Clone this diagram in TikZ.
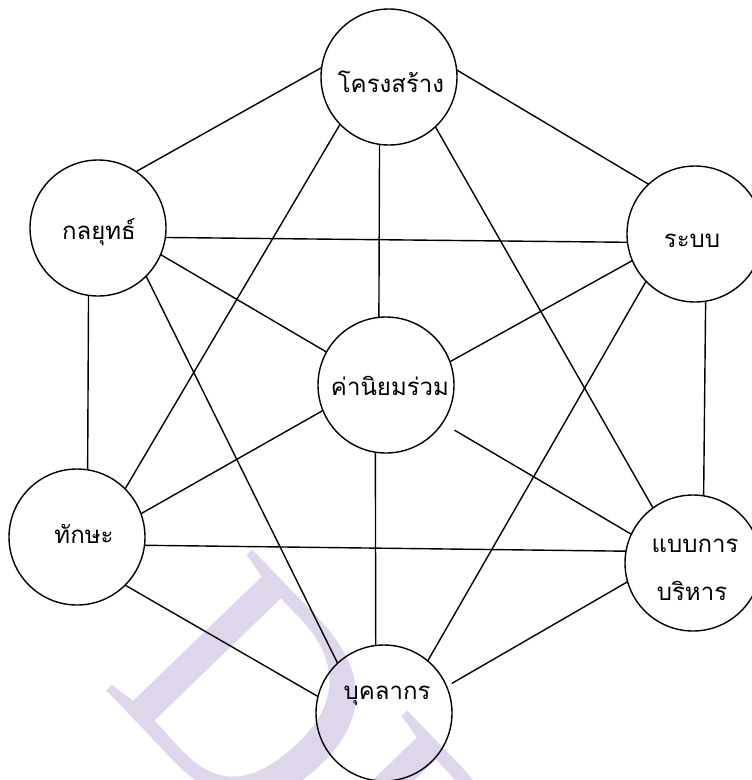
\documentclass[tikz,border=0pt]{standalone}
\usepackage{fontspec}
\newfontfamily\thaifont[Script=Thai]{Loma}
\newfontfamily\markfont{Liberation Serif}
\definecolor{wmark}{RGB}{222,215,235}
\begin{document}
\begin{tikzpicture}[x=1pt,y=-1pt,
  factor/.style={circle,draw,line width=1.4pt,minimum size=136pt,inner sep=0pt,outer sep=0pt},
  caption/.style={font=\thaifont\fontsize{24}{24}\selectfont,anchor=base,inner sep=0pt},
  link/.style={line width=1.4pt}]
\useasboundingbox (0,0) rectangle (752,780);
% background watermark
\begin{scope}
  \clip (0,0) rectangle (752,780);
  \node[anchor=base west,rotate=-46,text=wmark,inner sep=0pt,
        font=\markfont\fontsize{310}{310}\selectfont] (wm) at (100,684) {DPU};
\end{scope}
% the seven factors
\node[factor] (s)  at (389,77)  {};
\node[factor] (st) at (98,228)  {};
\node[factor] (sy) at (695,234) {};
\node[factor] (sv) at (386,385) {};
\node[factor] (sk) at (77,537)  {};
\node[factor] (se) at (693,563) {};
\node[factor] (sf) at (384,713) {};
% captions
\node[caption] (ts)  at (391,92)  {โครงสร้าง};
\node[caption] (tst) at (99,239)  {กลยุทธ์};
\node[caption] (tsy) at (692,247) {ระบบ};
\node[caption] (tsv) at (390,395) {ค่านิยมร่วม};
\node[caption] (tsk) at (84,543)  {ทักษะ};
\node[caption] (tse1) at (695,552) {แบบการ};
\node[caption] (tse2) at (692,600) {บริหาร};
\node[caption] (tsf) at (387,699) {บุคลากร};
% links between factors
\draw[link] (s.172.6) -- (st.56);
\draw[link] (s.6) -- (sy.133);
\draw[link] (s.-98.5) -- (sv.96);
\draw[link] (s.224.4) -- (sk.45.3);
\draw[link] (s.-47) -- (se.126.5);
\draw[link] (st.-8.5) -- (sy.187.7);
\draw[link] (st.-23.7) -- (sv.151);
\draw[link] (st.-98.6) -- (sk.81.4);
\draw[link] (st.-45.4) -- (sf.133.7);
\draw[link] (sy.203) -- (sv.20);
\draw[link] (sy.224.6) -- (sf.50.5);
\draw[link] (sy.-81.4) -- (se.81.4);
\draw[link] (sv.202.7) -- (sk.20.4);
\draw[link,shorten <=14pt] (sv.-34) -- (se.155);
\draw[link] (sk.-7.5) -- (se.170);
\draw[link] (sk.-45) -- (sf.166.7);
\draw[link] (sv.-99.3) -- (sf.97.6);
\draw[link,shorten >=6pt] (se.196.6) -- (sf.23.7);
\end{tikzpicture}
\end{document}
